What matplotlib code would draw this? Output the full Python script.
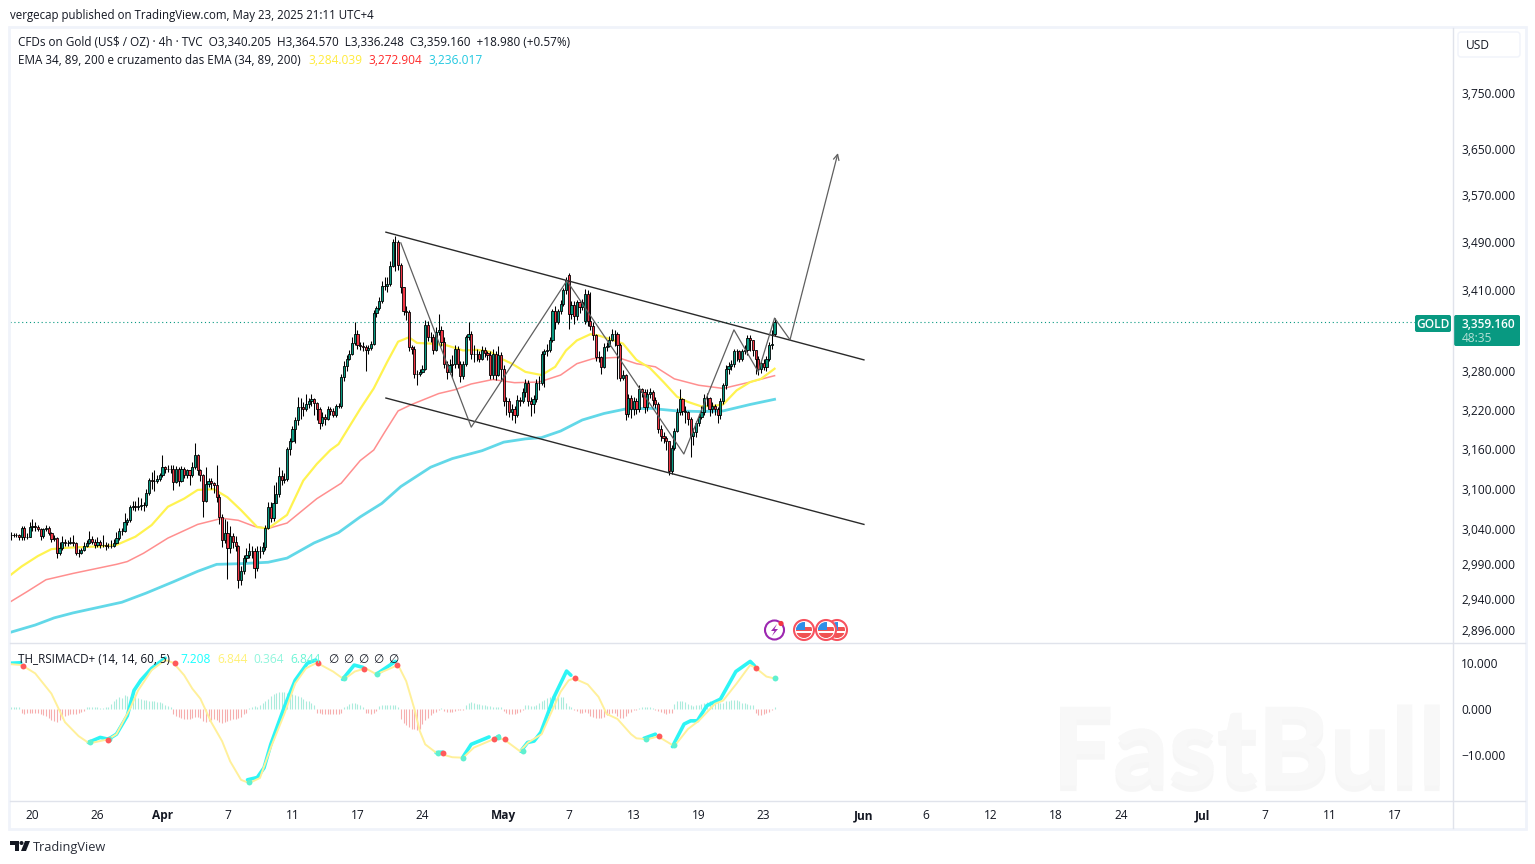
import matplotlib
matplotlib.use('Agg')
from matplotlib import pyplot as plt
from matplotlib import patheffects
from matplotlib.patches import Circle, FancyBboxPatch, Polygon, Rectangle
from matplotlib.ticker import NullFormatter, NullLocator

W, H = 1535, 864
plt.rcParams['font.family'] = ['Open Sans', 'DejaVu Sans']

# 4h candles
opens = [
    3031, 3031, 3031, 3031, 3028, 3042, 3028, 3029, 3043, 3045,
    3043, 3040, 3030, 3040, 3041, 3034, 3025, 3027, 3005, 3012,
    3021, 3020, 3020, 3021, 3020, 3005, 3006, 3010, 3016, 3020,
    3025, 3022, 3017, 3022, 3017, 3017, 3016, 3016, 3016, 3020,
    3027, 3038, 3038, 3050, 3053, 3072, 3074, 3072, 3074, 3075,
    3075, 3093, 3113, 3111, 3111, 3114, 3120, 3132, 3130, 3130,
    3130, 3110, 3130, 3111, 3130, 3120, 3128, 3120, 3133, 3151,
    3128, 3120, 3082, 3107, 3111, 3108, 3106, 3088, 3058, 3024,
    3035, 3012, 3030, 3022, 3015, 2967, 2979, 2998, 3003, 3008,
    3008, 2984, 3008, 3008, 3014, 3042, 3073, 3057, 3079, 3092,
    3119, 3113, 3115,
    3159, 3172, 3190, 3204, 3224, 3224, 3221, 3229, 3234, 3237, 3230,
    3221, 3200, 3209, 3206, 3221, 3218, 3211, 3225, 3226, 3271,
    3288, 3300, 3308, 3325, 3340, 3321, 3320, 3319, 3313, 3317,
    3324, 3373, 3381, 3393, 3418, 3418, 3421, 3450, 3490, 3490,
    3452, 3416, 3377, 3375, 3319, 3316, 3276, 3276, 3279, 3284,
    3354, 3334, 3334, 3314, 3343, 3345, 3327, 3292, 3279, 3290,
    3292, 3316, 3292, 3273, 3292, 3334, 3340, 3308, 3308,
    3308, 3300, 3313, 3309, 3305, 3274, 3307, 3274, 3305, 3284,
    3234, 3234, 3216, 3221, 3212, 3235, 3234, 3247, 3262, 3234,
    3228, 3237, 3262, 3261,
    3307, 3312, 3314, 3330, 3376, 3359, 3377, 3388, 3410, 3435,
    3372, 3386, 3369, 3391, 3383, 3361, 3405, 3361, 3352, 3337,
    3303, 3302, 3287, 3319, 3320, 3329, 3339, 3339, 3321, 3270,
    3274, 3213, 3238, 3221, 3233, 3221, 3252, 3247, 3224, 3245,
    3247, 3235, 3229, 3190, 3179, 3176, 3171, 3126, 3161, 3187,
    3216, 3237, 3218, 3216, 3205, 3179, 3185, 3199, 3208, 3216,
    3238, 3238, 3221, 3225, 3221, 3211, 3234, 3258, 3284, 3288,
    3292, 3312, 3312, 3300, 3312, 3313, 3333, 3329, 3313, 3300,
    3283, 3293, 3286, 3300, 3321, 3340,
]
closes = [
    3031, 3031, 3031, 3028, 3042, 3028, 3029, 3043, 3045, 3043,
    3040, 3030, 3040, 3041, 3034, 3025, 3027, 3005, 3012, 3021,
    3020, 3020, 3021, 3020, 3005, 3006, 3010, 3016, 3020, 3025,
    3022, 3017, 3022, 3017, 3017, 3016, 3016, 3016, 3020, 3027,
    3038, 3038, 3050, 3053, 3072, 3074, 3072, 3074, 3075, 3075,
    3093, 3113, 3111, 3111, 3114, 3120, 3132, 3130, 3130, 3130,
    3110, 3130, 3111, 3130, 3120, 3128, 3120, 3133, 3151, 3128,
    3120, 3082, 3107, 3111, 3108, 3106, 3088, 3058, 3024, 3035,
    3012, 3030, 3022, 3015, 2967, 2979, 2998, 3003, 3008, 3008,
    2984, 3008, 3008, 3014, 3042, 3073, 3057, 3079, 3092, 3119,
    3113, 3115, 3159,
    3172, 3190, 3204, 3224, 3224, 3221, 3229, 3234, 3237, 3230, 3221,
    3200, 3209, 3206, 3221, 3218, 3211, 3225, 3226, 3271, 3288,
    3300, 3308, 3325, 3340, 3321, 3320, 3319, 3313, 3317, 3324,
    3373, 3381, 3393, 3418, 3418, 3421, 3450, 3490, 3490, 3452,
    3416, 3377, 3375, 3319, 3316, 3276, 3276, 3279, 3284, 3354,
    3334, 3334, 3314, 3343, 3345, 3327, 3292, 3279, 3290, 3292,
    3316, 3292, 3273, 3292, 3334, 3340, 3308, 3308, 3308,
    3300, 3313, 3309, 3305, 3274, 3307, 3274, 3305, 3284, 3234,
    3234, 3216, 3221, 3212, 3235, 3234, 3247, 3262, 3234, 3228,
    3237, 3262, 3261, 3307,
    3312, 3314, 3330, 3376, 3359, 3377, 3388, 3410, 3427, 3372,
    3386, 3369, 3391, 3383, 3391, 3405, 3361, 3352, 3337, 3303,
    3302, 3287, 3319, 3320, 3329, 3339, 3339, 3321, 3270, 3274,
    3213, 3238, 3221, 3233, 3221, 3252, 3247, 3224, 3245, 3247,
    3235, 3229, 3190, 3179, 3176, 3171, 3126, 3161, 3187, 3216,
    3237, 3218, 3216, 3205, 3179, 3185, 3199, 3208, 3216, 3238,
    3238, 3221, 3225, 3221, 3211, 3234, 3258, 3284, 3288, 3292,
    3312, 3312, 3300, 3312, 3313, 3333, 3329, 3313, 3300, 3283,
    3293, 3286, 3300, 3321, 3324, 3359,
]
highs = [
    3036, 3034, 3035, 3033, 3044, 3044, 3034, 3051, 3055, 3050,
    3046, 3042, 3042, 3046, 3044, 3036, 3032, 3029, 3021, 3030,
    3026, 3024, 3028, 3031, 3021, 3011, 3013, 3021, 3024, 3037,
    3030, 3026, 3029, 3024, 3032, 3022, 3020, 3024, 3026, 3036,
    3041, 3041, 3064, 3057, 3076, 3082, 3082, 3088, 3086, 3080,
    3100, 3116, 3125, 3128, 3121, 3124, 3151, 3134, 3136, 3136,
    3136, 3134, 3133, 3134, 3132, 3130, 3128, 3140, 3168, 3152,
    3130, 3122, 3132, 3116, 3116, 3110, 3136, 3092, 3062, 3055,
    3052, 3045, 3034, 3030, 3017, 2986, 3002, 3012, 3020, 3015,
    3012, 3016, 3015, 3022, 3046, 3080, 3080, 3105, 3110, 3132,
    3128, 3124, 3163,
    3176, 3194, 3208, 3240, 3238, 3232, 3244, 3238, 3244, 3238, 3232,
    3224, 3216, 3214, 3226, 3224, 3222, 3228, 3230, 3275, 3296,
    3306, 3314, 3334, 3358, 3346, 3326, 3326, 3322, 3322, 3328,
    3378, 3384, 3400, 3425, 3432, 3432, 3458, 3496, 3500, 3494,
    3456, 3416, 3384, 3378, 3322, 3320, 3282, 3284, 3290, 3362,
    3360, 3343, 3340, 3350, 3372, 3352, 3335, 3296, 3300, 3306,
    3322, 3320, 3296, 3296, 3338, 3358, 3344, 3322, 3316,
    3312, 3320, 3318, 3312, 3312, 3315, 3312, 3320, 3310, 3290,
    3240, 3238, 3228, 3226, 3242, 3240, 3254, 3268, 3266, 3240,
    3242, 3268, 3272, 3312,
    3316, 3324, 3334, 3380, 3384, 3380, 3394, 3414, 3432, 3438,
    3392, 3392, 3395, 3394, 3396, 3412, 3410, 3408, 3358, 3340,
    3312, 3304, 3325, 3326, 3336, 3347, 3345, 3342, 3325, 3282,
    3276, 3244, 3242, 3240, 3238, 3258, 3254, 3252, 3252, 3254,
    3250, 3240, 3232, 3196, 3186, 3180, 3172, 3166, 3192, 3222,
    3252, 3238, 3226, 3218, 3208, 3192, 3202, 3214, 3225, 3244,
    3246, 3240, 3232, 3228, 3224, 3238, 3262, 3290, 3294, 3298,
    3316, 3316, 3314, 3316, 3322, 3338, 3338, 3330, 3306, 3304,
    3298, 3299, 3304, 3326, 3346, 3365,
]
lows = [
    3024, 3028, 3028, 3024, 3024, 3024, 3026, 3028, 3038, 3038,
    3037, 3024, 3027, 3037, 3031, 3022, 3023, 2998, 3003, 3010,
    3015, 3016, 3018, 3016, 3002, 3000, 3004, 3008, 3014, 3018,
    3018, 3012, 3014, 3012, 3014, 3010, 3012, 3012, 3014, 3018,
    3024, 3032, 3036, 3046, 3050, 3068, 3066, 3068, 3068, 3066,
    3072, 3090, 3100, 3096, 3108, 3112, 3118, 3124, 3125, 3124,
    3098, 3108, 3104, 3110, 3116, 3116, 3106, 3118, 3130, 3120,
    3112, 3058, 3080, 3102, 3100, 3094, 3080, 3048, 3014, 3020,
    2968, 3006, 3012, 3008, 2955, 2960, 2975, 2992, 2998, 2998,
    2970, 2980, 2998, 3004, 3010, 3040, 3050, 3052, 3080, 3088,
    3105, 3108, 3112,
    3150, 3170, 3168, 3196, 3206, 3210, 3218, 3222, 3226, 3212, 3204,
    3190, 3194, 3196, 3204, 3212, 3208, 3208, 3222, 3222, 3264,
    3280, 3298, 3306, 3322, 3315, 3314, 3312, 3280, 3308, 3314,
    3322, 3366, 3378, 3390, 3410, 3408, 3418, 3448, 3442, 3444,
    3406, 3370, 3362, 3312, 3308, 3270, 3258, 3272, 3278, 3282,
    3328, 3326, 3308, 3312, 3338, 3320, 3285, 3268, 3276, 3270,
    3285, 3285, 3263, 3268, 3288, 3330, 3300, 3295, 3296,
    3294, 3298, 3302, 3298, 3268, 3268, 3266, 3272, 3264, 3226,
    3212, 3208, 3204, 3200, 3208, 3225, 3230, 3240, 3225, 3210,
    3215, 3232, 3250, 3258,
    3256, 3304, 3310, 3326, 3348, 3355, 3372, 3384, 3405, 3348,
    3364, 3355, 3362, 3374, 3378, 3355, 3352, 3345, 3330, 3296,
    3295, 3275, 3285, 3312, 3318, 3328, 3320, 3268, 3265, 3266,
    3204, 3208, 3207, 3212, 3214, 3216, 3240, 3215, 3218, 3238,
    3225, 3222, 3184, 3172, 3168, 3158, 3120, 3122, 3158, 3186,
    3212, 3212, 3200, 3196, 3148, 3165, 3178, 3195, 3206, 3212,
    3225, 3210, 3215, 3212, 3200, 3205, 3228, 3252, 3276, 3282,
    3286, 3296, 3294, 3296, 3308, 3306, 3312, 3304, 3276, 3274,
    3278, 3282, 3280, 3296, 3316, 3336,
]

ema34_x = [0, 4, 10, 15, 21, 33, 39, 46, 52, 58, 64, 69, 75, 80, 85, 91, 95, 102, 108, 113, 118, 121, 129, 134, 139,
           143, 147, 150, 155, 161, 167, 172, 177, 181, 185, 190, 196, 201, 205, 209, 214, 217, 222, 226, 231, 236,
           241, 246, 250, 255, 260, 263, 268, 273, 277, 282]
ema34 = [2974, 2986, 3001, 3011, 3013, 3015, 3017, 3029, 3046, 3073, 3085, 3098, 3099, 3087, 3068, 3043, 3041, 3061,
         3112, 3137, 3158, 3167, 3221, 3253, 3295, 3327, 3334, 3325, 3324, 3321, 3313, 3314, 3311, 3300, 3292, 3279,
         3274, 3287, 3313, 3329, 3339, 3337, 3330, 3324, 3298, 3285, 3263, 3240, 3232, 3225, 3226, 3228, 3250, 3263,
         3268, 3284]
ema89_x = [0, 6, 13, 23, 39, 43, 49, 58, 69, 78, 84, 90, 95, 102, 113, 122, 129, 134, 138, 143, 148, 158, 164, 170,
           178, 186, 195, 203, 209, 215, 224, 231, 238, 245, 254, 263, 272, 282]
ema89 = [2936, 2950, 2967, 2976, 2989, 2993, 3005, 3027, 3047, 3056, 3053, 3044, 3041, 3049, 3085, 3108, 3142, 3158,
         3185, 3218, 3228, 3245, 3251, 3260, 3267, 3262, 3263, 3274, 3292, 3300, 3302, 3292, 3287, 3268, 3258, 3253,
         3262, 3273]
ema200_x = [0, 9, 16, 23, 41, 50, 60, 69, 76, 85, 95, 102, 112, 121, 129, 137, 144, 155, 163, 174, 182, 190, 196, 203,
            211, 219, 227, 236, 246, 255, 263, 273, 282]
ema200 = [2893, 2903, 2913, 2920, 2935, 2948, 2964, 2979, 2989, 2990, 2992, 2998, 3020, 3035, 3058, 3078, 3103, 3132,
          3145, 3157, 3170, 3175, 3177, 3187, 3204, 3214, 3221, 3222, 3218, 3217, 3218, 3228, 3236]

# drawings on the chart
channel_x = [138.5, 315]
channel_top = [3507, 3298]
channel_bottom = [3238, 3047]
zigzag_x = [144, 170, 205.3, 248.5, 267, 276, 282, 287.7]
zigzag_y = [3489, 3193, 3426, 3152, 3346, 3279, 3365, 3330]
target_x = 305.4
target_y = 3643
last_price = 3359.16

# oscillator pane
hist = [
    .4, .5, .4, .3, -.8, -1.1, -1, -.9, -.8, -.9,
    -1, -1.1, -1.3, -1.6, -2, -2.5, -2.6, -2.8, -2.4, -2,
    -1.6, -1.3, -1.2, -1.1, -1.1, -.9, -.7, -.4, .3, .4,
    .5, .5, .4, .2, .2, .3, .4, 1, 1.6, 2.2,
    2.6, 2.4, 3, 2.8, 2.6, 2.4, 2.6, 2.4, 2.1, 2,
    1.9, 1.8, 1.8, 1.6, 1.5, 1.4, 1.2, .8, .6, .4,
    -1.2, -1.5, -1.7, -1.9, -2.1, -2.2, -2.2, -2, -1.8, -1.8,
    -2, -2.6, -2.8, -2.6, -2.4, -2.2, -2.5, -2.8, -3, -2.8,
    -2.6, -2.4, -2.2, -2.1, -1.9, -1.7, -1.2, -.8,
    .2, .4, .6, .5,
    .8, 1.3, 1.8, 2.2, 2.8, 3.2, 3.4, 3.6, 3.7, 3.6, 3.4, 3.2, 3.3, 3, 2.8, 2.5, 2.2, 1.8, 1.6, 1.2, .8,
    -.8, -1, -1.1, -1.1, -1.2, -1.2, -1.2, -1.2, -1.1, -.9,
    .4, .6, 1, 1.2, 1.3, 1, .8, .5,
    -.8, -1, -1.2, -1, -.5,
    .6, .8, .9, .9, .8, .8, .8, .5,
    -2.2, -3, -3.6, -4, -4.3, -4.4, -4.5, -4.4, -3.3, -2.4, -1.9, -1.4, -1, -.6, -.3,
    .2, -.5, -.7, -.7, -.6, -.4, -.3, -.2, -.2,
    .8, 1.3, 1.4, 1.2, 1, 1, .9, .8, .7, .7, .5, .4, .4, .4,
    -.5, -.9, -1.2, -1.2, -1.2, -1, -.6, -.3,
    .8, .8, .7, .7, .8, 1.2, 1.8, 2, 2.4, 2.6, 2.7, 2.6, 2.6, 2.6, 2.6, 1.2, .6, .5,
    -.2, -.4, -.8, -.9, -.7, -1, -1.5, -1.7, -1.9, -2, -2, -1.7, -1.4, -1.1, -.9, -1, -1.5, -1.9, -1.9, -1.5,
    -1, -.6, -.3, -.3,
    .2, .4, .5, .4, .3, .2,
    -.3, -.5, -.7, -.9, -1.2, -.9, -.9,
    1, 1.7, 1.7, 1.6, 1.4, 1, .8, .7, .8, .9, 1, 1.3, 1.5, 1.6, 1.5, 1.4, 1.4, 1.3, 1.2, 1.6, 1.8, 1.9, 2, 1.9,
    1.7, 1.3, 1.2, 1.1, .9, .8,
    -1, -1.4, -1.4, -1.1, -.8, -.6, -.3, .5,
]
signal_x = [0, 4, 9, 15, 18, 20, 25, 29, 36, 39, 44, 47, 52, 57, 60, 64, 67, 70, 74, 78, 81, 85, 88, 92, 96, 101, 105,
            109, 113, 119, 123, 127, 131, 135, 143, 146, 149, 151, 153, 157, 163, 167, 171, 179, 182, 188, 191, 196,
            199, 203, 206, 208, 213, 217, 220, 224, 229, 231, 235, 239, 245, 250, 254, 260, 263, 268, 273, 275, 279,
            282]
signal = [9.7, 9.5, 7.7, 3.3, -.4, -2.9, -5.9, -7.5, -6.6, -5.5, 0, 4, 8.4, 10.6, 10, 7.3, 4.4, 2.2, -2.9, -7, -11.4,
          -15.4, -16.1, -15, -8.4, -1.1, 5.5, 8.8, 10, 8.1, 6.4, 8.1, 8.8, 7.5, 9.5, 6, 0, -4.8, -7.7, -9.5, -10.5,
          -10.6, -8.4, -6.4, -6.6, -9.2, -7.3, -5.5, -1.5, 3.7, 6.2, 6.6, 5.3, 2.6, -1.1, -2.2, -5.5, -6.4, -6.6, -6,
          -8.1, -4.4, -2.6, 1.1, 1.8, 5.5, 9.5, 8.9, 7, 6.6]
gap = float('nan')
rsi_x = [0, 3.7, gap, 28.6, 33, 36, gap, 36, 39, 43, 45.5, 48, 52, 57, gap,
         87.4, 91, 93.5, 96, 101, 105, 109.5, 112.6, gap, 122.5, 126.8, 130, gap, 135, 142, gap,
         157, 159.4, gap, 166.8, 170, 176.6, gap, 178.5, 180.3, gap,
         188.3, 190.8, 193.2, 195.7, 200.6, 205.2, 206.8, gap, 233.8, 238, gap,
         244.3, 248.6, 251, 253.5, 257, 262, 267.7, 273, 274.5]
rsi = [9.9, 10, gap, -7.3, -6.2, -6.6, gap, -6.6, -5.5, -1.5, 4, 6.2, 8.8, 11, gap,
       -15.4, -14.9, -12.8, -7.7, .4, 6.2, 9.9, 10.6, gap, 6.4, 9.5, 9, gap, 7.5, 10.3, gap,
       -9.5, -9.4, gap, -10.6, -7.7, -6.1, gap, -6.6, -5.9, gap,
       -9.2, -7.3, -7, -5.1, 2.6, 8.2, 7.3, gap, -6.4, -5.5, gap,
       -8.2, -3.3, -2.6, -2.6, .7, 2.1, 8.1, 10.3, 9.4]
sell_x = [4.6, 35.7, 60.7, 113.5, 130.5, 142.5, 159.6, 178.5, 182.5, 208.4, 239.4, 275.2]
sell_y = [9.4, -6.7, 10, 9.9, 8.7, 9.6, -9.5, -6.6, -6.6, 6.6, -6, 8.9]
buy_x = [29.3, 36.3, 88, 123, 135.2, 157.8, 167, 179.7, 189.2, 234.5, 245, 282]
buy_y = [-7.3, -6.6, -15.9, 6.6, 7.5, -9.5, -10.6, -6.2, -9.1, -6.6, -7.9, 6.8]

# axis labels
price_ticks = [3750, 3650, 3570, 3490, 3410, 3280, 3220, 3160, 3100, 3040, 2990, 2940, 2896]
osc_ticks = [10, 0, -10]
date_ticks = [8, 32, 56, 80, 104, 128, 152, 182, 206, 230, 254, 278, 315, 338, 362, 386, 410, 440, 463, 487, 511]
date_labels = ['20', '26', 'Apr', '7', '11', '17', '24', 'May', '7', '13', '19', '23', 'Jun', '6', '12', '18', '24',
               'Jul', '7', '11', '17']
months = ['Apr', 'May', 'Jun', 'Jul']

TEXT = '#131722'
GREEN = '#089981'
RED = '#f23645'
LINE = '#e0e3eb'
FS = 8.55


def pane(left, top, right, bottom):
    return [left / W, 1 - bottom / H, (right - left) / W, (bottom - top) / H]


fig = plt.figure(figsize=(W / 100, H / 100), dpi=100, facecolor='white')

# price pane
ax = fig.add_axes(pane(10, 28, 1453, 643))
ax.set_yscale('log')
ax.set_xlim(-0.3, 532.5)
ax.set_ylim(2878, 3869)

ax.plot(ema200_x, ema200, color='#62d8e8', lw=2.0, zorder=2, solid_joinstyle='round')
ax.plot(ema89_x, ema89, color='#ff8f8f', lw=1.1, zorder=2, solid_joinstyle='round')
ax.plot(ema34_x, ema34, color='#fff350', lw=1.6, zorder=2, solid_joinstyle='round')

for i, (o, c, h, l) in enumerate(zip(opens, closes, highs, lows)):
    ax.plot([i, i], [l, h], color='black', lw=0.75, zorder=3, solid_capstyle='butt')
    ax.bar(i, abs(c - o), bottom=min(o, c), width=0.8, color=GREEN if c >= o else RED,
           edgecolor='black', linewidth=0.6, zorder=4)

ax.plot(channel_x, channel_top, color='#2a2a2a', lw=1.0, zorder=5)
ax.plot(channel_x, channel_bottom, color='#2a2a2a', lw=1.0, zorder=5)
ax.plot(zigzag_x, zigzag_y, color='#5f5f5f', lw=0.9, zorder=5)
ax.annotate('', xy=(target_x, target_y), xytext=(zigzag_x[-1], zigzag_y[-1]),
            arrowprops=dict(arrowstyle='->', color='#5f5f5f', lw=0.9, mutation_scale=10, shrinkA=0, shrinkB=0),
            zorder=5)
ax.axhline(last_price, color=GREEN, lw=0.8, ls=(0, (1, 2.5)), zorder=1)

ax.yaxis.tick_right()
ax.yaxis.set_major_locator(NullLocator())
ax.yaxis.set_minor_formatter(NullFormatter())
ax.set_yticks(price_ticks)
ax.set_yticklabels([f'{p:,.3f}' for p in price_ticks], fontsize=FS, color=TEXT)
ax.yaxis.set_minor_locator(NullLocator())
ax.tick_params(axis='y', length=0, pad=6)
ax.set_xticks([])
for s in ax.spines.values():
    s.set_visible(False)

# oscillator pane
ax2 = fig.add_axes(pane(10, 643, 1453, 801))
ax2.set_xlim(-0.3, 532.5)
ax2.set_ylim(-20, 14.29)
ax2.vlines(range(len(hist)), 0, hist, colors=['#abecdc' if v > 0 else '#f6aeae' for v in hist], lw=0.8, zorder=1)
ax2.plot(rsi_x, rsi, color='#2df5f5', lw=2.6, zorder=2, solid_capstyle='round')
ax2.plot(signal_x, signal, color='#fff09a', lw=1.4, zorder=3)
ax2.scatter(buy_x, buy_y, s=18, color='#5ff0d0', zorder=4, linewidths=0)
ax2.scatter(sell_x, sell_y, s=18, color='#ff5a5a', zorder=5, linewidths=0)
ax2.yaxis.tick_right()
ax2.set_yticks(osc_ticks)
ax2.set_yticklabels([f'{v:.3f}'.replace('-', '\u2212') for v in osc_ticks], fontsize=FS, color=TEXT)
ax2.tick_params(axis='y', length=0, pad=6)
ax2.set_xticks(date_ticks)
ax2.set_xticklabels(date_labels, fontsize=FS, color=TEXT)
for lab in ax2.get_xticklabels():
    if lab.get_text() in months:
        lab.set_fontweight('bold')
ax2.tick_params(axis='x', length=0, pad=6)
for s in ax2.spines.values():
    s.set_visible(False)

# everything that sits around the panes, in pixels
top = fig.add_axes([0, 0, 1, 1], zorder=10)
top.set_xlim(0, W)
top.set_ylim(H, 0)
top.axis('off')
top.patch.set_alpha(0)

top.add_patch(Rectangle((9, 27), 1517, 802, fill=False, edgecolor='#f0f3fa', lw=2))
top.plot([10, 1525], [643, 643], color=LINE, lw=1)
top.plot([10, 1525], [801, 801], color=LINE, lw=1)
top.plot([1453, 1453], [28, 828], color=LINE, lw=1)
top.add_patch(FancyBboxPatch((1458, 32), 62, 25, boxstyle='round,pad=0,rounding_size=3', fc='white',
                             ec='#f0f3fa', lw=1))
top.text(1466, 45.5, 'USD', fontsize=FS, color=TEXT, va='center')

top.text(10, 15.5, 'vergecap published on TradingView.com, May 23, 2025 21:11 UTC+4', fontsize=8.3, color=TEXT,
         va='center')
top.text(18, 42.5, 'CFDs on Gold (US$ / OZ) \u00b7 4h \u00b7 TVC  O3,340.205  H3,364.570  L3,336.248  C3,359.160  '
         '+18.980 (+0.57%)', fontsize=8.5, color=TEXT, va='center')
top.text(18, 60, 'EMA 34, 89, 200 e cruzamento das EMA (34, 89, 200)', fontsize=8.4, color=TEXT, va='center')
for x, t, col in [(308, '3,284.039', '#ffeb3b'), (368, '3,272.904', '#ff2b2b'), (428, '3,236.017', '#22c8e0')]:
    top.text(x, 60, t, fontsize=FS, color=col, va='center')

top.text(18, 659.5, 'TH_RSIMACD+ (14, 14, 60, 5)', fontsize=8.4, color=TEXT, va='center')
for x, t, col in [(180, '7.208', '#18ffff'), (217, '6.844', '#fff176'), (253, '0.364', '#8ff5dc'),
                  (290, '6.844', '#69f5d5')]:
    top.text(x, 659.5, t, fontsize=FS, color=col, va='center')
for x in [328, 343, 358, 373, 388]:
    top.text(x, 659.5, '\u2205', fontsize=FS, color=TEXT, va='center')

# last price tags
top.add_patch(FancyBboxPatch((1415, 315), 36, 17, boxstyle='round,pad=0,rounding_size=2', fc=GREEN, ec='none'))
top.text(1433, 324.5, 'GOLD', fontsize=FS, color='white', ha='center', va='center', fontweight='semibold')
top.add_patch(FancyBboxPatch((1454, 315), 66, 31, boxstyle='round,pad=0,rounding_size=2', fc=GREEN, ec='none'))
top.text(1462, 324, '3,359.160', fontsize=FS, color='white', va='center', fontweight='semibold')
top.text(1462, 338, '48:35', fontsize=FS, color='#b5e0d6', va='center')

# event icons
top.add_patch(Circle((774.5, 630), 9.5, fc='white', ec='#9c27b0', lw=1.5))
top.add_patch(Polygon([(777, 624), (771, 631), (774.5, 631), (772, 636), (778, 629), (774.5, 629)], fc='#9c27b0',
                      ec='none'))
top.add_patch(Circle((781, 623.5), 2.6, fc=RED, ec='none'))
for cx in [837, 826, 804]:
    top.add_patch(Circle((cx, 630), 10, fc='white', ec='#f7525f', lw=1.5))
    clip = Circle((cx, 630), 8, transform=top.transData)
    for ry, rh in [(626.5, 4), (633, 5)]:
        stripe = Rectangle((cx - 8, ry), 16, rh, fc='#f05252', ec='none')
        top.add_patch(stripe)
        stripe.set_clip_path(clip)
    canton = Rectangle((cx - 8, 622), 9, 8, fc='#2f8fe8', ec='none')
    top.add_patch(canton)
    canton.set_clip_path(clip)

# watermark
mark = top.text(1249, 754, 'FastBull', fontsize=78, fontweight=900, color='#f8f8f8', family='Lato',
                ha='center', va='center', zorder=0)
mark.set_path_effects([patheffects.withSimplePatchShadow(offset=(0, -4), shadow_rgbFace='#eeeeee', alpha=0.5),
                       patheffects.Normal()])

# footer logo
top.add_patch(Polygon([(10, 841), (19, 841), (19, 851), (15, 851), (15, 845), (10, 845)], fc=TEXT, ec='none'))
top.add_patch(Circle((21.5, 843), 2, fc=TEXT, ec='none'))
top.add_patch(Polygon([(25, 841), (30, 841), (26, 851), (21, 851)], fc=TEXT, ec='none'))
top.text(33, 847.5, 'TradingView', fontsize=9.2, color='#2a2e39', va='center')

fig.savefig('out.png', dpi=100)
